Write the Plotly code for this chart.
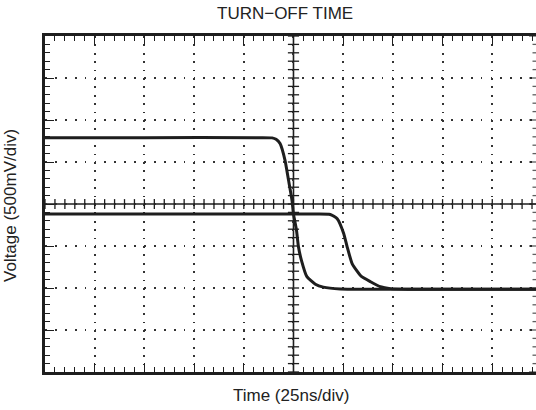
import numpy as np
import plotly.graph_objects as go

# Time axis in divisions (25 ns/div), voltage in divisions (500 mV/div)
t_upper = [0, 2.0, 4.3, 4.57, 4.65, 4.73, 4.83, 4.90, 4.97, 5.00, 5.06, 5.10, 5.16, 5.27, 5.44, 5.60, 5.94, 6.5, 8.0, 9.9]
v_upper = [5.58, 5.58, 5.58, 5.575, 5.54, 5.44, 5.04, 4.57, 4.09, 3.76, 3.38, 2.98, 2.66, 2.27, 2.09, 2.02, 1.975, 1.97, 1.97, 1.97]

t_lower = [0, 3.0, 5.4, 5.74, 5.88, 6.01, 6.08, 6.18, 6.28, 6.36, 6.55, 6.75, 6.95, 7.3, 8.5, 9.9]
v_lower = [3.76, 3.76, 3.76, 3.75, 3.65, 3.30, 2.98, 2.58, 2.40, 2.28, 2.15, 2.03, 1.985, 1.97, 1.97, 1.97]

title_text = "TURN−OFF TIME"
x_title = "Time (25ns/div)"
y_title = "Voltage (500mV/div)"

X_MAX = 9.88
Y_MAX = 8
CX, CY = 5, 4
INK = "#1e1e1e"
FONT = "Liberation Sans, Arial, sans-serif"

fig = go.Figure()

# center graticule cross ticks
minor_x = np.round(np.arange(0, X_MAX + 1e-9, 0.2), 3)
minor_y = np.round(np.arange(0, Y_MAX + 1e-9, 0.2), 3)
fig.add_trace(go.Scatter(x=minor_x, y=[CY] * len(minor_x), mode="markers",
                         marker=dict(symbol="line-ns", size=7, line=dict(width=1.3, color=INK)),
                         hoverinfo="skip", showlegend=False))
fig.add_trace(go.Scatter(x=[CX] * len(minor_y), y=minor_y, mode="markers",
                         marker=dict(symbol="line-ew", size=8, line=dict(width=1.3, color=INK)),
                         hoverinfo="skip", showlegend=False))
# right border ticks (border itself lies just outside the picture)
sizes = [10 if abs(v - round(v)) < 1e-6 else 5 for v in minor_y]
fig.add_trace(go.Scatter(x=[X_MAX] * len(minor_y), y=minor_y, mode="markers",
                         marker=dict(symbol="line-ew", size=sizes, line=dict(width=1.3, color=INK)),
                         hoverinfo="skip", showlegend=False))

for tx, vy in ((t_upper, v_upper), (t_lower, v_lower)):
    fig.add_trace(go.Scatter(x=tx, y=vy, mode="lines",
                             line=dict(color=INK, width=3, shape="spline", smoothing=0.5),
                             hoverinfo="skip", showlegend=False))

fig.add_shape(type="line", xref="x", yref="y", x0=CX, x1=CX, y0=0, y1=Y_MAX,
              line=dict(color=INK, width=1.6), layer="below")
fig.add_shape(type="line", xref="x", yref="y", x0=0, x1=X_MAX, y0=CY, y1=CY,
              line=dict(color=INK, width=1.6), layer="below")

fig.update_xaxes(range=[0, X_MAX], dtick=1, tick0=0, showticklabels=False,
                 ticks="inside", ticklen=9, tickwidth=1.3, tickcolor=INK,
                 minor=dict(dtick=0.2, ticks="inside", ticklen=5, tickwidth=1.3, tickcolor=INK, showgrid=False),
                 showline=True, linewidth=3, linecolor=INK, mirror="ticks",
                 showgrid=True, gridcolor="#333333", gridwidth=1.8, griddash="1.8px,6.6px",
                 zeroline=False, fixedrange=True)
fig.update_yaxes(range=[0, Y_MAX], dtick=1, tick0=0, showticklabels=False,
                 ticks="inside", ticklen=9, tickwidth=1.3, tickcolor=INK,
                 minor=dict(dtick=0.2, ticks="inside", ticklen=5, tickwidth=1.3, tickcolor=INK, showgrid=False),
                 showline=True, linewidth=3, linecolor=INK, mirror=False,
                 showgrid=True, gridcolor="#333333", gridwidth=1.8, griddash="1.8px,8.1px",
                 zeroline=False, fixedrange=True)

ann_font = dict(family=FONT, size=17, color="#222222")
fig.update_layout(
    width=536, height=410,
    margin=dict(l=45, r=0, t=36, b=38),
    paper_bgcolor="white", plot_bgcolor="white",
    annotations=[
        dict(text=title_text, xref="paper", yref="paper", x=0.4898, y=1.0655,
             xanchor="center", yanchor="middle", showarrow=False, font=ann_font),
        dict(text=x_title, xref="paper", yref="paper", x=0.502, y=-0.0685,
             xanchor="center", yanchor="middle", showarrow=False, font=ann_font),
        dict(text=y_title, xref="paper", yref="paper", x=-0.0713, y=0.497,
             xanchor="center", yanchor="middle", showarrow=False, textangle=-90, font=ann_font),
    ],
)

fig.write_html("out.html", config={"displayModeBar": False},
               post_script="document.body.style.margin='0';document.body.style.overflow='hidden';")
